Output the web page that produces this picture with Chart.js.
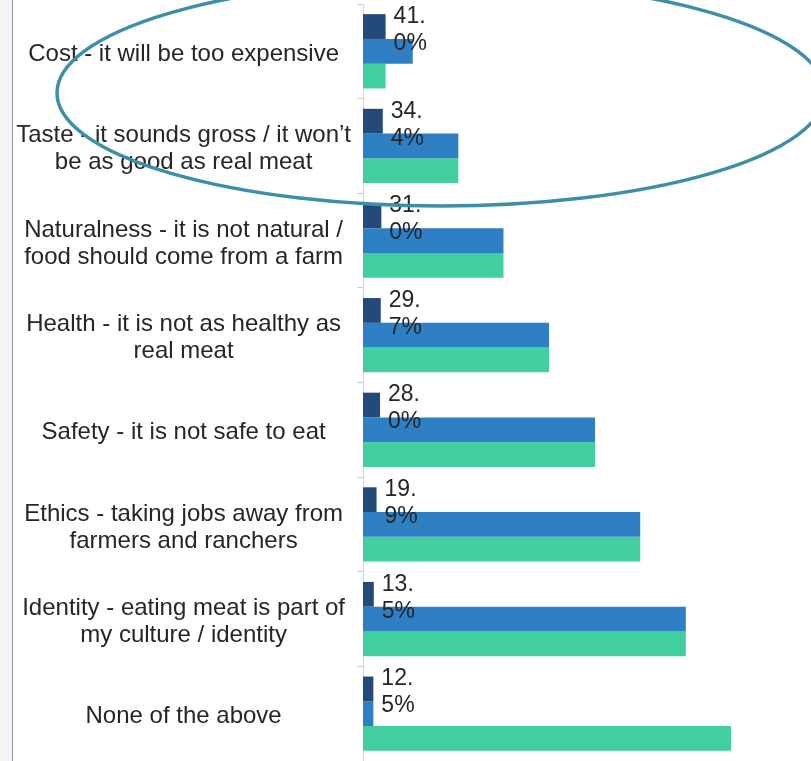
<!DOCTYPE html>
<html>
<head>
<meta charset="utf-8">
<script src="https://cdn.jsdelivr.net/npm/chart.js@4/dist/chart.umd.min.js"></script>
<style>
  html, body { margin: 0; padding: 0; background: #ffffff; }
  #wrap { position: relative; width: 811px; height: 761px; overflow: hidden; }
  #strip { position: absolute; left: 0; top: 0; width: 12px; height: 761px; background: #f4f4f5; border-right: 1.5px solid #8d9ab0; }
  canvas { position: absolute; left: 0; top: 0; }
</style>
</head>
<body>
<div id="wrap">
  <div id="strip"></div>
  <canvas id="chart" width="811" height="761"></canvas>
</div>
<script>
// Reasons given for not trying cultivated meat
const categories = [
  ['Cost - it will be too expensive'],
  ['Taste - it sounds gross / it won\u2019t', 'be as good as real meat'],
  ['Naturalness - it is not natural /', 'food should come from a farm'],
  ['Health - it is not as healthy as', 'real meat'],
  ['Safety - it is not safe to eat'],
  ['Ethics - taking jobs away from', 'farmers and ranchers'],
  ['Identity - eating meat is part of', 'my culture / identity'],
  ['None of the above']
];

// Labelled share of respondents (%)
const shareValues = [41.0, 34.4, 31.0, 29.7, 28.0, 19.9, 13.5, 12.5];
// Second and third series, on the same value axis
const blueValues  = [104, 210, 315, 421, 528, 633, 739, 12.5];
const greenValues = [41, 210, 315, 421, 528, 633, 739, 844];

// Value axis extent
const X_MIN = -11.6;
const X_MAX = 1030;

const FONT_FAMILY = '"Liberation Sans", Arial, sans-serif';
const COLORS = { dark: '#234a78', blue: '#2e7fc3', green: '#42cf9e' };

const valueLabels = {
  id: 'valueLabels',
  afterDatasetsDraw(chart) {
    const ctx = chart.ctx;
    const meta = chart.getDatasetMeta(0);
    ctx.save();
    ctx.font = '23px ' + FONT_FAMILY;
    ctx.fillStyle = '#262626';
    ctx.textAlign = 'left';
    ctx.textBaseline = 'middle';
    meta.data.forEach((bar, i) => {
      const parts = shareValues[i].toFixed(1).split('.');
      const x = bar.x + 8;
      ctx.fillText(parts[0] + '.', x, bar.y - 10);
      ctx.fillText(parts[1] + '%', x, bar.y + 17);
    });
    ctx.restore();
  }
};

const highlightRing = {
  id: 'highlightRing',
  afterDraw(chart) {
    const ctx = chart.ctx;
    ctx.save();
    ctx.beginPath();
    ctx.ellipse(441, 93, 384, 113, 0, 0, Math.PI * 2);
    ctx.strokeStyle = '#3d8fa9';
    ctx.lineWidth = 3.5;
    ctx.stroke();
    ctx.restore();
  }
};

new Chart(document.getElementById('chart'), {
  type: 'bar',
  data: {
    labels: categories,
    datasets: [
      { data: shareValues, backgroundColor: COLORS.dark, base: X_MIN },
      { data: blueValues,  backgroundColor: COLORS.blue, base: X_MIN },
      { data: greenValues, backgroundColor: COLORS.green, base: X_MIN }
    ]
  },
  options: {
    indexAxis: 'y',
    responsive: false,
    animation: false,
    barPercentage: 1.0,
    categoryPercentage: 0.785,
    layout: { padding: { left: 12, top: 4, right: 0, bottom: 0 } },
    plugins: { legend: { display: false }, tooltip: { enabled: false } },
    scales: {
      x: { type: 'linear', min: X_MIN, max: X_MAX, display: false },
      y: {
        grid: { display: true, drawOnChartArea: false, offset: true, tickLength: 6, color: '#cfcfcf' },
        border: { display: true, color: '#d8d8d8', width: 1 },
        ticks: {
          crossAlign: 'center',
          padding: 6,
          labelOffset: 3,
          color: '#262626',
          font: { family: FONT_FAMILY, size: 24, lineHeight: 1.125 }
        },
        afterFit(scale) {
          scale.width = 351;
          scale.paddingTop = 0;
          scale.paddingBottom = 0;
        }
      }
    }
  },
  plugins: [valueLabels, highlightRing]
});
</script>
</body>
</html>
